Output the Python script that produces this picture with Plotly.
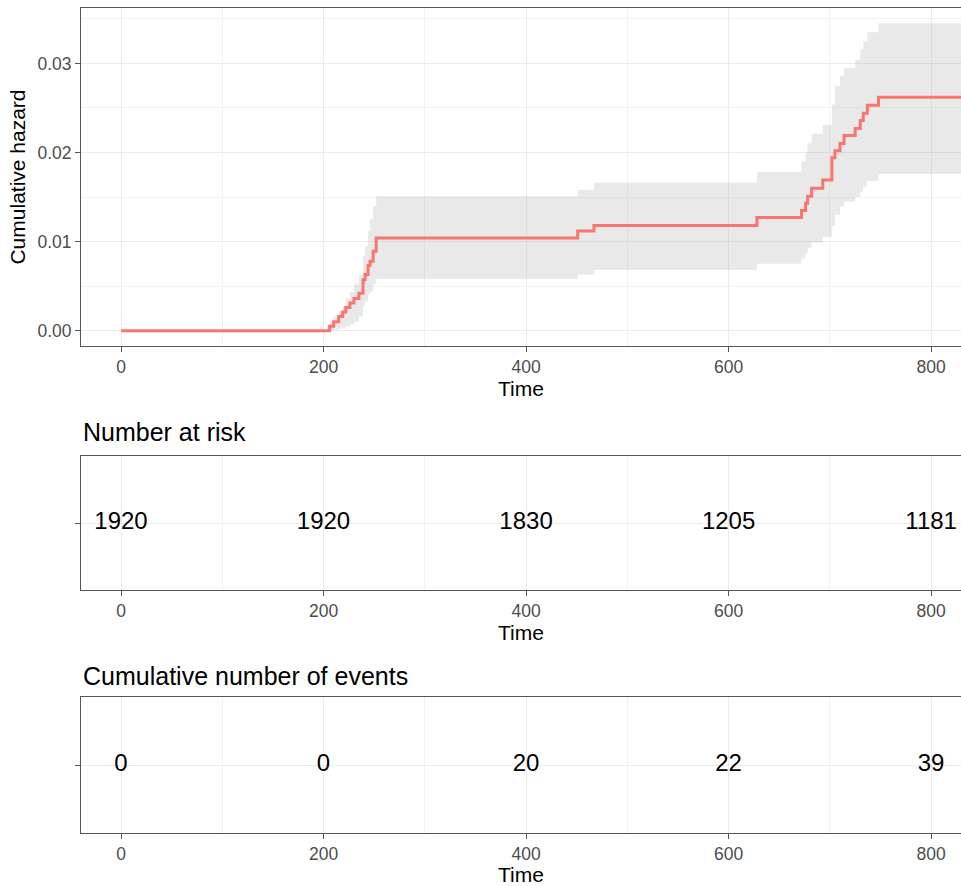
import plotly.graph_objects as go

# ---- data ----
time = [0, 206, 210, 215, 219, 222, 226, 230, 235, 239, 241, 244, 246, 249, 252,
        451, 467, 628, 672, 676, 678, 682, 693, 702, 705, 710, 714, 725, 730, 733, 737, 748, 840]
cumhaz = [0.0, 0.0005, 0.0010, 0.0016, 0.0021, 0.0026, 0.0031, 0.0036, 0.0042, 0.0057, 0.0063,
          0.0073, 0.0078, 0.0089, 0.0104,
          0.0112, 0.0118, 0.0127, 0.0135, 0.0143, 0.0151, 0.0160, 0.0169, 0.0194, 0.0202,
          0.0210, 0.0219, 0.0227, 0.0236, 0.0244, 0.0253, 0.0262, 0.0262]
lower = [0.0, 0.0000, 0.0001, 0.0002, 0.0003, 0.0005, 0.0007, 0.0010, 0.0016, 0.0028, 0.0033,
         0.0041, 0.0044, 0.0052, 0.0058,
         0.0063, 0.0068, 0.0075, 0.0081, 0.0087, 0.0093, 0.0099, 0.0105, 0.0118, 0.0130,
         0.0139, 0.0145, 0.0150, 0.0156, 0.0162, 0.0168, 0.0176, 0.0176]
upper = [0.0, 0.0010, 0.0016, 0.0022, 0.0028, 0.0036, 0.0043, 0.0053, 0.0063, 0.0084, 0.0095,
         0.0112, 0.0125, 0.0140, 0.0151,
         0.0158, 0.0166, 0.0178, 0.0190, 0.0200, 0.0210, 0.0221, 0.0231, 0.0254, 0.0274,
         0.0286, 0.0295, 0.0304, 0.0316, 0.0325, 0.0335, 0.0345, 0.0345]

table_times = [0, 200, 400, 600, 800]
n_risk = [1920, 1920, 1830, 1205, 1181]
n_events = [0, 0, 20, 22, 39]

x_ticks = [0, 200, 400, 600, 800]
y_ticks = [0.0, 0.01, 0.02, 0.03]
y_ticklabels = ["0.00", "0.01", "0.02", "0.03"]

# ---- style ----
FONT = "Liberation Sans, Arial, sans-serif"
RED = "#F8766D"
BORDER = "#555555"
GRID = "#EBEBEB"
MINOR = "#F2F2F2"
TICKC = "#4D4D4D"
W, H = 961, 886
XR = [-39.5, 829.5]
TICK_SIZE = 17.5
TITLE_SIZE = 21

def ydom(top_px, bot_px):
    return [1 - bot_px / H, 1 - top_px / H]

fig = go.Figure()

# CI band
fig.add_trace(go.Scatter(x=time, y=lower, mode="lines", line=dict(width=0, shape="hv"),
                         hoverinfo="skip", showlegend=False, xaxis="x", yaxis="y"))
fig.add_trace(go.Scatter(x=time, y=upper, mode="lines", line=dict(width=0, shape="hv"),
                         fill="tonexty", fillcolor="rgba(175,175,175,0.28)",
                         hoverinfo="skip", showlegend=False, xaxis="x", yaxis="y"))
# cumulative hazard
fig.add_trace(go.Scatter(x=time, y=cumhaz, mode="lines", line=dict(color=RED, width=3, shape="hv"),
                         showlegend=False, xaxis="x", yaxis="y"))

# risk tables
fig.add_trace(go.Scatter(x=table_times, y=[0.5] * len(table_times), mode="text",
                         text=[str(v) for v in n_risk],
                         textfont=dict(size=24, color="black", family=FONT),
                         textposition="middle center", showlegend=False, xaxis="x2", yaxis="y2"))
fig.add_trace(go.Scatter(x=table_times, y=[0.5] * len(table_times), mode="text",
                         text=[str(v) for v in n_events],
                         textfont=dict(size=24, color="black", family=FONT),
                         textposition="middle center", showlegend=False, xaxis="x3", yaxis="y3"))

def xaxis(anchor):
    return dict(domain=[81 / W, 1.0], range=XR, anchor=anchor,
                tickvals=x_ticks, ticks="outside", ticklen=5, tickcolor=BORDER, tickwidth=1,
                tickfont=dict(size=TICK_SIZE, color=TICKC, family=FONT),
                showgrid=True, gridcolor=GRID, gridwidth=1.2,
                minor=dict(dtick=100, tick0=0, showgrid=True, gridcolor=MINOR, gridwidth=0.8),
                showline=True, linecolor=BORDER, linewidth=1, mirror=True,
                zeroline=False, automargin=False,
                title=dict(text="Time", font=dict(size=TITLE_SIZE, color="black", family=FONT),
                           standoff=4))

fig.update_layout(
    width=W, height=H,
    margin=dict(l=0, r=0, t=0, b=0),
    paper_bgcolor="white", plot_bgcolor="white",
    font=dict(family=FONT),
    showlegend=False,
    xaxis=xaxis("y"),
    xaxis2=xaxis("y2"),
    xaxis3=xaxis("y3"),
    yaxis=dict(domain=ydom(8, 346), range=[-0.001725, 0.036225], anchor="x",
               tickvals=y_ticks, ticktext=y_ticklabels, ticks="outside", ticklen=5,
               tickcolor=BORDER, tickfont=dict(size=TICK_SIZE, color=TICKC, family=FONT),
               showgrid=True, gridcolor=GRID, gridwidth=1.2,
               minor=dict(dtick=0.005, tick0=0, showgrid=True, gridcolor=MINOR, gridwidth=0.8),
               showline=True, linecolor=BORDER, linewidth=1, zeroline=False, automargin=False,
               title=dict(text="Cumulative hazard",
                          font=dict(size=TITLE_SIZE, color="black", family=FONT),
                          standoff=6)),
    yaxis2=dict(domain=ydom(456, 590), range=[0, 1], anchor="x2",
                tickvals=[0.5], ticktext=[""], ticks="outside", ticklen=5, tickcolor=BORDER,
                showgrid=True, gridcolor=GRID, gridwidth=1.2,
                showline=True, linecolor=BORDER, linewidth=1, zeroline=False, automargin=False),
    yaxis3=dict(domain=ydom(697, 833), range=[0, 1], anchor="x3",
                tickvals=[0.5], ticktext=[""], ticks="outside", ticklen=5, tickcolor=BORDER,
                showgrid=True, gridcolor=GRID, gridwidth=1.2,
                showline=True, linecolor=BORDER, linewidth=1, zeroline=False, automargin=False),
    annotations=[
        dict(text="Number at risk", x=81 / W, y=1 - 432 / H, xref="paper", yref="paper",
             xanchor="left", yanchor="middle", showarrow=False,
             font=dict(size=25, color="black", family=FONT)),
        dict(text="Cumulative number of events", x=81 / W, y=1 - 676 / H, xref="paper", yref="paper",
             xanchor="left", yanchor="middle", showarrow=False,
             font=dict(size=25, color="black", family=FONT)),
    ],
)

fig.write_html(
    "out.html",
    config={"displayModeBar": False},
    post_script="document.body.style.margin='0';document.body.style.padding='0';"
                "document.body.style.overflow='hidden';"
                "document.documentElement.style.overflow='hidden';",
)
